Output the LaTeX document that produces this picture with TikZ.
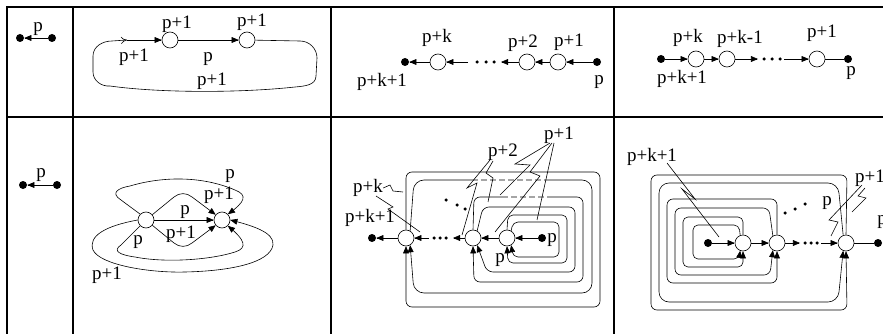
\documentclass[tikz,border=0pt]{standalone}
\usepackage{fontspec}
\setmainfont{Liberation Serif}
\usetikzlibrary{arrows,arrows.meta}

\begin{document}
\begin{tikzpicture}[x=1pt,y=-1pt,>=triangle 45,line width=0.6pt]
			\tikzstyle{vtx} = [circle,draw=black,fill=white,minimum size=16pt,inner sep=0pt];
			\tikzstyle{blob} = [circle,fill=black,minimum size=8pt,inner sep=0pt];
			\tikzstyle{dd} = [circle,fill=black,minimum size=3.5pt,inner sep=0pt];
			\tikzstyle{lbl} = [inner sep=0pt,font=\fontsize{19}{22}\selectfont];
			\tikzstyle{tab} = [line width=1.3pt];
			\tikzstyle{gap} = [white,line width=2pt,dash pattern=on 3pt off 6pt];
			\useasboundingbox (0,0) rectangle (883,334);
			% table
			\draw[tab] (883,7) -- (7,7) -- (7,334);
			\draw[tab] (7,117) -- (883,117);
			\foreach \x in {73,331,614} \draw[tab] (\x,7) -- (\x,334);
			% top row, cell 1
			\node[blob] (1) at (20,38) {};
			\node[blob] (2) at (52,38) {};
			\draw[->] (2) -- (1);
			\node[lbl] (l1) at (38,29) {p};
			% top row, cell 2
			\node[vtx] (c1) at (170,40) {};
			\node[vtx] (c2) at (247,40) {};
			\coordinate (q) at (127,40);
			\draw[-{To[length=6pt,width=7pt]}] (c2) -- (300,41) to[out=0,in=90] (317,58) -- (316,76) to[out=-90,in=5] (295,87)
				.. controls (240,93) and (160,93) .. (110,86) to[out=185,in=-90] (93,72) -- (93,56)
				to[out=90,in=180] (112,41) -- (q);
			\draw[->] (q) -- (c1);
			\draw[->] (c1) -- (c2);
			\node[lbl] (lc1) at (177,24) {p+1};
			\node[lbl] (lc2) at (252,22) {p+1};
			\node[lbl] (lc3) at (134,57) {p+1};
			\node[lbl] (lc4) at (208,59) {p};
			\node[lbl] (lc5) at (212,81) {p+1};
			% top row, cell 3
			\node[blob] (h0) at (405,62) {};
			\node[vtx] (hk) at (438,62) {};
			\coordinate (hx) at (468,62);
			\coordinate (hy) at (501,62);
			\node[vtx] (h2) at (527,62) {};
			\node[vtx] (h1) at (558,62) {};
			\node[blob] (hp) at (597,62) {};
			\foreach \x in {477,486,494} \node[dd] (hd\x) at (\x,62) {};
			\draw[->] (hp) -- (h1);
			\draw[->] (h1) -- (h2);
			\draw[->] (h2) -- (hy);
			\draw[->] (hx) -- (hk);
			\draw[->] (hk) -- (h0);
			\node[lbl] (lh1) at (437,38) {p+k};
			\node[lbl] (lh2) at (523,43) {p+2};
			\node[lbl] (lh3) at (569,42) {p+1};
			\node[lbl] (lh4) at (382,82) {p+k+1};
			\node[lbl] (lh5) at (599,82) {p};
			% top row, cell 4
			\node[blob] (g0) at (661,59) {};
			\node[vtx] (gk) at (696,59) {};
			\node[vtx] (gm) at (727,59) {};
			\coordinate (gx) at (758,59);
			\coordinate (gy) at (784,59);
			\node[vtx] (g1) at (817,59) {};
			\node[blob] (gp) at (848,59) {};
			\foreach \x in {764,772,780} \node[dd] (gd\x) at (\x,59) {};
			\draw[->] (g0) -- (gk);
			\draw[->] (gk) -- (gm);
			\draw[->] (gm) -- (gx);
			\draw[->] (gy) -- (g1);
			\draw (g1) -- (gp);
			\node[lbl] (lg1) at (688,38) {p+k};
			\node[lbl] (lg2) at (740,39) {p+k-1};
			\node[lbl] (lg3) at (822,33) {p+1};
			\node[lbl] (lg4) at (682,79) {p+k+1};
			\node[lbl] (lg5) at (851,73) {p};
			% bottom row, cell 1
			\node[blob] (3) at (23,185) {};
			\node[blob] (4) at (57,185) {};
			\draw[->] (4) -- (3);
			\node[lbl] (l2) at (41,175) {p};
			% bottom row, cell 2
			\node[vtx] (u1) at (146,220) {};
			\node[vtx] (u2) at (222,220) {};
			\draw[->] (u1) -- (u2);
			\draw[->] (u1.40) -- (174,197) to[out=40,in=140] (192,197) -- (u2.140);
			\draw[->] (u1.-40) -- (174,243) to[out=-40,in=-140] (192,243) -- (u2.-140);
			\draw[->] (u1.135) -- (121,200) .. controls (110,193) and (118,188) .. (130,186)
				.. controls (160,177) and (200,175) .. (235,190) .. controls (248,195) and (245,202) .. (u2.45);
			\draw[->] (u1.-135) -- (121,245) .. controls (112,251) and (120,255) .. (135,257)
				.. controls (165,263) and (210,260) .. (235,252) .. controls (248,248) and (245,240) .. (u2.-45);
			\draw[->] (u1.west) .. controls (105,226) and (88,236) .. (93,250)
				.. controls (100,265) and (150,273) .. (185,272) .. controls (230,271) and (270,263) .. (273,245)
				.. controls (275,232) and (250,225) .. (u2.east);
			\node[lbl] (lu1) at (230,176) {p};
			\node[lbl] (lu2) at (219,195) {p+1};
			\node[lbl] (lu3) at (185,212) {p};
			\node[lbl] (lu4) at (181,234) {p+1};
			\node[lbl] (lu5) at (138,242) {p};
			\node[lbl] (lu6) at (107,275) {p+1};
			% bottom row, cell 3
			\node[blob] (m0) at (372,238) {};
			\node[vtx] (mk) at (406,238) {};
			\coordinate (mx) at (429,238);
			\coordinate (my) at (453,238);
			\node[vtx] (m2) at (473,238) {};
			\node[vtx] (m1) at (507,238) {};
			\node[blob] (mp) at (542,238) {};
			\foreach \x in {434,440,446} \node[dd] (md\x) at (\x,238) {};
			\foreach \x/\y in {446/200,457/205,465/209} \node[dd] (me\x) at (\x,\y) {};
			\draw[->] (mp) -- (m1);
			\draw[->] (m1) -- (m2);
			\draw[->] (m2) -- (my);
			\draw[->] (mx) -- (mk);
			\draw[->] (mk) -- (m0);
			\draw[->,rounded corners=6pt] (mk.north) -- (406,172) -- (600,172) -- (600,307) -- (406,307) -- (mk.south);
			\draw[->,rounded corners=10pt] (mk.60) -- (414,180) -- (592,180) -- (592,293) -- (414,293) -- (mk.-60);
			\draw[->,rounded corners=6pt] (m2.north) -- (474,197) -- (583,197) -- (583,282) -- (474,282) -- (m2.south);
			\draw[->,rounded corners=6pt] (m2.60) -- (483,207) -- (575,207) -- (575,272) -- (487,272) -- (m2.-60);
			\draw[->,rounded corners=5pt] (m1.north) -- (508,215) -- (567,215) -- (567,263) -- (508,263) -- (m1.south);
			\draw[->,rounded corners=5pt] (m1.60) -- (513,222) -- (559,222) -- (559,257) -- (513,257) -- (m1.-60);
			\draw[gap] (478,180) -- (548,180);
			\draw[gap] (508,197) -- (548,197);
			\node[lbl] (lm1) at (368,188) {p+k};
			\node[lbl] (lm2) at (370,218) {p+k+1};
			\node[lbl] (lm3) at (503,152) {p+2};
			\node[lbl] (lm4) at (559,135) {p+1};
			\node[lbl] (lm5) at (552,240) {p};
			\node[lbl] (lm6) at (500,260) {p};
			\draw (lm1.east) -- (390,185) -- (393,191) -- (403,192);
			\draw (376,196) -- (393,207) -- (388,209) -- (420,232);
			\draw (490,160) -- (467,188) -- (477,183) -- (462,235);
			\draw (493,161) -- (486,173) -- (493,178) -- (488,202);
			\draw (550,143) -- (515,164) -- (530,165) -- (500,195);
			\draw (552,143) -- (530,172) -- (540,176) -- (495,232);
			\draw (554,143) -- (537,220);
			% bottom row, cell 4
			\node[blob] (n0) at (708,243) {};
			\node[vtx] (n1) at (743,243) {};
			\node[vtx] (n2) at (777,243) {};
			\coordinate (nx) at (800,243);
			\coordinate (ny) at (821,243);
			\node[vtx] (nk) at (846,243) {};
			\node[blob] (np) at (878,243) {};
			\foreach \x in {805,811,817} \node[dd] (nd\x) at (\x,243) {};
			\foreach \x/\y in {785/213,795/209,805/204} \node[dd] (ne\x) at (\x,\y) {};
			\draw[->] (n0) -- (n1);
			\draw[->] (n1) -- (n2);
			\draw[->] (n2) -- (nx);
			\draw[->] (ny) -- (nk);
			\draw (nk) -- (np);
			\draw[->,rounded corners=5pt] (n1.110) -- (739,225) -- (693,225) -- (693,259) -- (739,259) -- (n1.-110);
			\draw[->,rounded corners=5pt] (n1.north) -- (743,217) -- (683,217) -- (683,267) -- (743,267) -- (n1.south);
			\draw[->,rounded corners=6pt] (n2.120) -- (769,208) -- (675,208) -- (675,275) -- (770,275) -- (n2.-120);
			\draw[->,rounded corners=6pt] (n2.north) -- (777,199) -- (667,199) -- (667,283) -- (777,283) -- (n2.south);
			\draw[->,rounded corners=10pt] (nk.110) -- (838,183) -- (659,183) -- (659,302) -- (838,302) -- (nk.-110);
			\draw[->,rounded corners=6pt] (nk.north) -- (847,175) -- (651,175) -- (651,310) -- (847,310) -- (nk.south);
			\node[lbl] (ln1) at (652,157) {p+k+1};
			\node[lbl] (ln2) at (870,178) {p+1};
			\node[lbl] (ln3) at (827,203) {p};
			\node[lbl] (ln4) at (882,222) {p};
			\draw (667,163) -- (695,199) -- (682,189) -- (719,237);
			\draw (862,185) -- (829,220) -- (838,222) -- (831,236);
			\draw (865,188) -- (858,196) -- (866,198) -- (852,212);
		\end{tikzpicture}
\end{document}
